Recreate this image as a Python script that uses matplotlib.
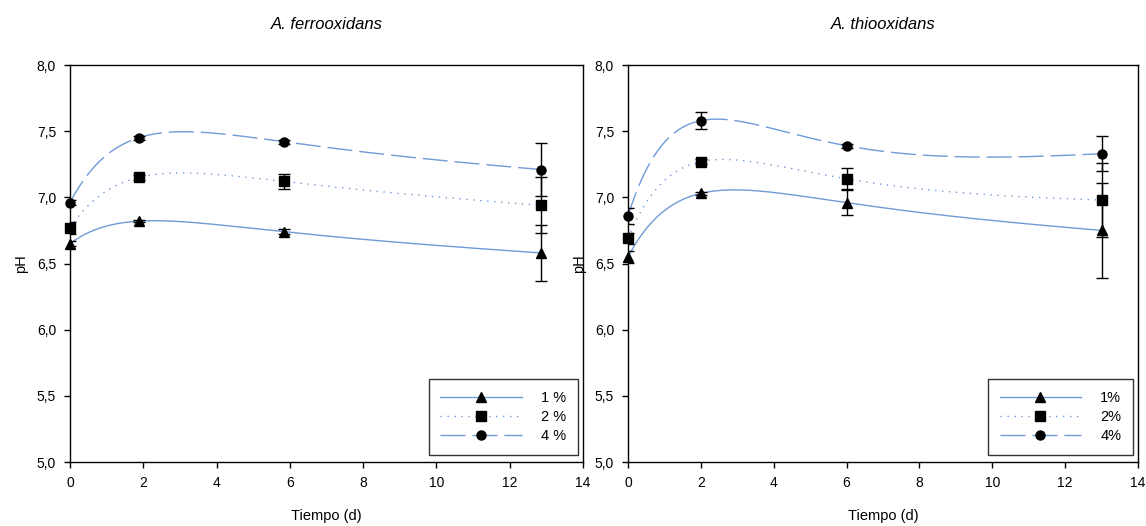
import numpy as np
import matplotlib
matplotlib.use("Agg")
import matplotlib.pyplot as plt

plt.rcParams['font.family'] = ['Liberation Sans', 'DejaVu Sans']

# ---- data ----
titles = ["A. ferrooxidans", "A. thiooxidans"]
labels_left = ["1 %", "2 %", "4 %"]
labels_right = ["1%", "2%", "4%"]

t_left = [0, 1.87, 5.85, 12.85]
ph1_left = [6.65, 6.82, 6.74, 6.58]
ph2_left = [6.77, 7.15, 7.12, 6.94]
ph4_left = [6.96, 7.45, 7.42, 7.21]
err1_left = [0.02, 0.01, 0.02, 0.21]
err2_left = [0.045, 0.02, 0.057, 0.21]
err4_left = [0.02, 0.015, 0.015, 0.20]

t_right = [0, 2, 6, 13]
ph1_right = [6.55, 7.03, 6.96, 6.75]
ph2_right = [6.69, 7.27, 7.14, 6.98]
ph4_right = [6.86, 7.58, 7.39, 7.33]
err1_right = [0.048, 0.01, 0.097, 0.36]
err2_right = [0.04, 0.02, 0.08, 0.28]
err4_right = [0.062, 0.064, 0.015, 0.13]

xticks = [0, 2, 4, 6, 8, 10, 12, 14]
yticks = [5.0, 5.5, 6.0, 6.5, 7.0, 7.5, 8.0]

line_color = "#6f9bd6"
styles = ["-", (0, (1, 4)), (0, (18, 5))]
markers = ["^", "s", "o"]


def smooth_curve(x, y, xs, k=0.5):
    x = np.asarray(x, float)
    y = np.asarray(y, float)
    A = np.column_stack([np.ones_like(x), x, np.exp(-k * x), x * np.exp(-k * x)])
    coef = np.linalg.lstsq(A, y, rcond=None)[0]
    B = np.column_stack([np.ones_like(xs), xs, np.exp(-k * xs), xs * np.exp(-k * xs)])
    return B @ coef


fig = plt.figure(figsize=(11.46, 5.26), dpi=100)
W, H = 1146, 526
ax1 = fig.add_axes([70 / W, (526 - 462) / H, 513 / W, 397 / H])
ax2 = fig.add_axes([628 / W, (526 - 462) / H, 510 / W, 397 / H])

panels = [
    (ax1, t_left, [ph1_left, ph2_left, ph4_left], [err1_left, err2_left, err4_left], labels_left, titles[0]),
    (ax2, t_right, [ph1_right, ph2_right, ph4_right], [err1_right, err2_right, err4_right], labels_right, titles[1]),
]

for ax, t, series, errs, labs, title in panels:
    xs = np.linspace(0, t[-1], 300)
    handles = []
    for y, e, ls, mk, lab in zip(series, errs, styles, markers, labs):
        ys = smooth_curve(t, y, xs)
        ax.plot(xs, ys, color=line_color, lw=1.0, linestyle=ls, zorder=2)
        ax.errorbar(t, y, yerr=e, fmt="none", ecolor="black", elinewidth=1.0,
                    capsize=4, capthick=1.0, zorder=3)
        ax.plot(t, y, linestyle="none", marker=mk, color="black", markersize=6.5, zorder=4,
                clip_on=False)
        h, = ax.plot([], [], color=line_color, lw=1.0, linestyle=ls, marker=mk,
                     markerfacecolor="black", markeredgecolor="black", markersize=6.5,
                     label=lab)
        handles.append(h)
    ax.set_xlim(0, 14)
    ax.set_ylim(5.0, 8.0)
    ax.set_xticks(xticks)
    ax.set_yticks(yticks)
    ax.set_yticklabels([f"{v:.1f}".replace(".", ",") for v in yticks])
    ax.tick_params(direction="out", length=4, width=1, labelsize=10, colors="black", pad=6)
    for sp in ax.spines.values():
        sp.set_linewidth(1.0)
        sp.set_color("black")
    ax.set_xlabel("Tiempo (d)", fontsize=10.5, labelpad=14)
    ax.set_ylabel("pH", fontsize=10.5, labelpad=6)
    ax.set_title(title, fontsize=12, style="italic", pad=26)
    leg = ax.legend(handles=handles, loc="lower right", bbox_to_anchor=(0.99, 0.018),
                    numpoints=1, handlelength=5.6, handletextpad=1.3, borderpad=0.8,
                    labelspacing=0.35, fontsize=10.5, frameon=True, fancybox=False,
                    shadow=False, edgecolor="black", borderaxespad=0.0)
    leg.get_frame().set_linewidth(1.0)

fig.savefig("out.png", dpi=100)
